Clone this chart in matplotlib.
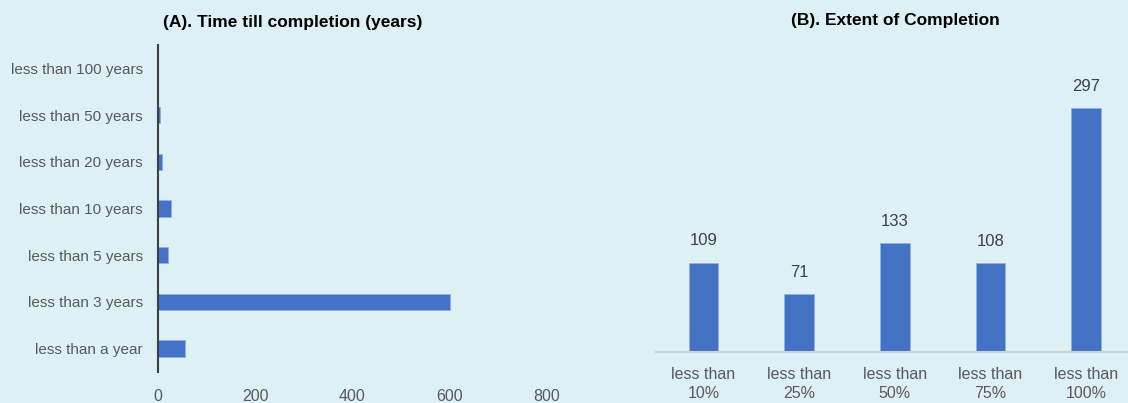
#!/usr/bin/env python3
"""
Two panel bar chart: time till completion and extent of completion
"""

import matplotlib
matplotlib.use('Agg')
import matplotlib.pyplot as plt
from matplotlib import font_manager

# Panel A data (horizontal bars, bottom to top)
time_labels = ['less than a year', 'less than 3 years', 'less than 5 years',
               'less than 10 years', 'less than 20 years', 'less than 50 years',
               'less than 100 years']
time_counts = [55, 600, 21, 26, 9, 4, 1]
time_ticks = [0, 200, 400, 600, 800]

# Panel B data
extent_labels = ['less than\n10%', 'less than\n25%', 'less than\n50%',
                 'less than\n75%', 'less than\n100%']
extent_counts = [109, 71, 133, 108, 297]

BG = '#DCF0F5'
BAR = '#4472C4'
GREY = '#595959'

names = {f.name for f in font_manager.fontManager.ttflist}
family = 'Liberation Sans Narrow' if 'Liberation Sans Narrow' in names else 'Liberation Sans'
plt.rcParams['font.family'] = [family, 'DejaVu Sans']

fig = plt.figure(figsize=(11.28, 4.03), dpi=100, facecolor=BG)

# ---- Panel A ----
ax1 = fig.add_axes([158 / 1128, 1 - 372 / 403, (546.7 - 158) / 1128, (372 - 45) / 403])
ax1.set_facecolor(BG)
ypos = range(len(time_labels))
ax1.barh(ypos, time_counts, height=0.35, color=BAR, edgecolor='#8fb0e6', linewidth=0.6)
ax1.set_xlim(0, 800)
ax1.set_ylim(-0.5, len(time_labels) - 0.5)
ax1.set_yticks(list(ypos))
ax1.set_yticklabels(time_labels)
ax1.set_xticks(time_ticks)
ax1.tick_params(axis='both', length=0, labelsize=11, labelcolor=GREY)
ax1.tick_params(axis='y', pad=11)
ax1.tick_params(axis='x', pad=12, labelsize=11.5)
for side in ['top', 'right', 'bottom']:
    ax1.spines[side].set_visible(False)
ax1.spines['left'].set_color('#404040')
ax1.spines['left'].set_linewidth(1.5)
fig.text(293 / 1128, 1 - 22 / 403, '(A). Time till completion (years)',
         ha='center', va='center', fontsize=12.5, fontweight='bold', color='black')

# ---- Panel B ----
ax2 = fig.add_axes([655.5 / 1128, 1 - 352 / 403, (1128 - 655.5) / 1128, (352 - 45) / 403])
ax2.set_facecolor(BG)
xpos = range(len(extent_labels))
bars = ax2.bar(xpos, extent_counts, width=0.31, color=BAR, edgecolor='#8fb0e6', linewidth=0.6)
ax2.set_xlim(-0.5, 4.437)
ax2.set_ylim(0, 374)
ax2.set_xticks(list(xpos))
ax2.set_xticklabels(extent_labels, linespacing=1.3)
ax2.set_yticks([])
ax2.tick_params(axis='x', length=0, labelsize=11.5, labelcolor=GREY, pad=11)
for side in ['top', 'right', 'left']:
    ax2.spines[side].set_visible(False)
ax2.spines['bottom'].set_color('#d0d0d0')
ax2.spines['bottom'].set_linewidth(1.5)
for b, v in zip(bars, extent_counts):
    ax2.annotate(str(v), (b.get_x() + b.get_width() / 2, v), xytext=(0, 15.5),
                 textcoords='offset points', ha='center', va='center',
                 fontsize=12, color='#404040')
fig.text(895 / 1128, 1 - 21 / 403, '(B). Extent of Completion',
         ha='center', va='center', fontsize=12.5, fontweight='bold', color='black')

fig.savefig('out.png', dpi=100, facecolor=BG)
